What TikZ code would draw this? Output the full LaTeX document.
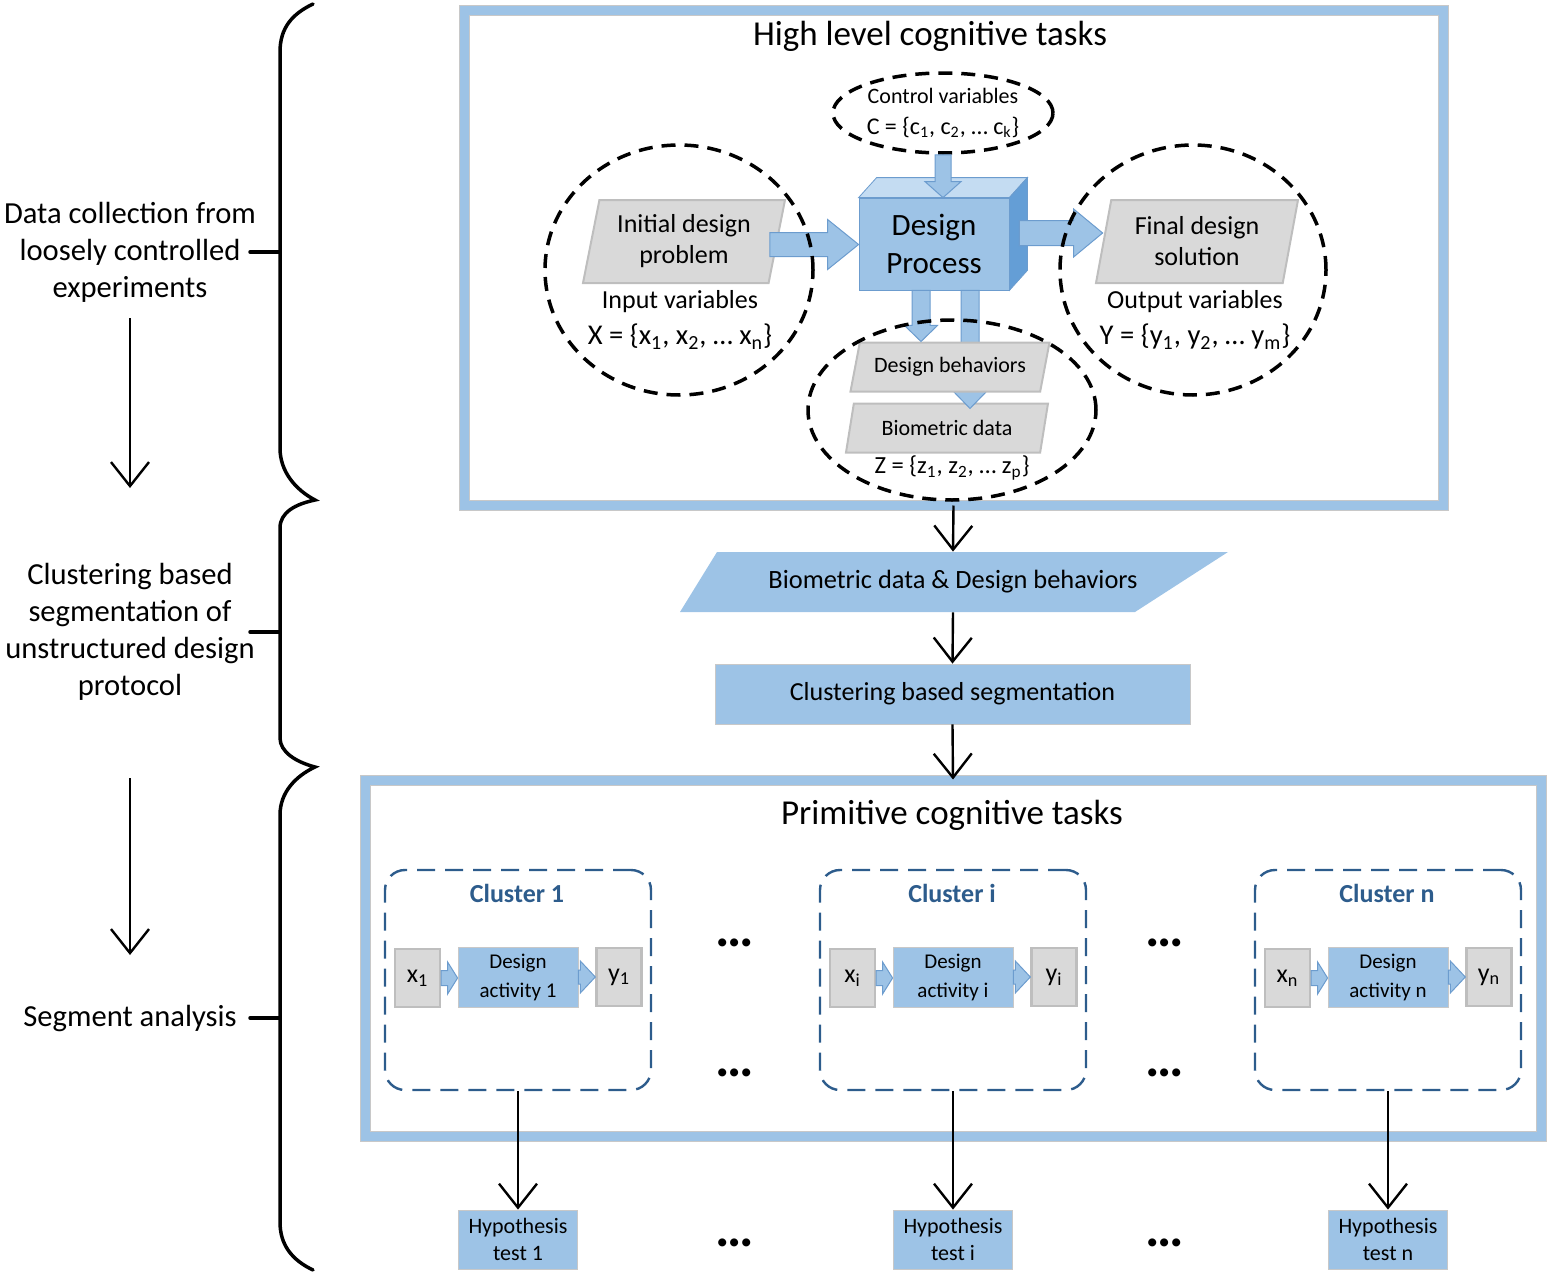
\documentclass[tikz,border=0pt]{standalone}
\usepackage{fontspec}
\setmainfont{Carlito}
\usetikzlibrary{positioning,calc,shapes.geometric,arrows.meta}

\definecolor{boxblue}{RGB}{157,195,230}
\definecolor{lineblue}{RGB}{108,156,206}
\definecolor{topblue}{RGB}{196,220,242}
\definecolor{sideblue}{RGB}{100,158,214}
\definecolor{grayfill}{RGB}{217,217,217}
\definecolor{grayline}{RGB}{190,190,190}
\definecolor{clusterblue}{RGB}{45,92,140}
\definecolor{framegray}{RGB}{200,200,200}

\newcommand{\fsz}[2]{\fontsize{#1}{#2}\selectfont}

% fat arrows: from, to, shaft half width, head half width, head length
\newcommand{\harrow}[5]{%
  \draw[blockarrow] let \p1=(#1), \p2=(#2) in
    (\x1,\y1+#3) -- (\x2-#5,\y1+#3) -- (\x2-#5,\y1+#4) -- (\x2,\y1)
    -- (\x2-#5,\y1-#4) -- (\x2-#5,\y1-#3) -- (\x1,\y1-#3) -- cycle;}
\newcommand{\varrow}[5]{%
  \draw[blockarrow] let \p1=(#1), \p2=(#2) in
    (\x1-#3,\y1) -- (\x1-#3,\y2+#5) -- (\x1-#4,\y2+#5) -- (\x1,\y2)
    -- (\x1+#4,\y2+#5) -- (\x1+#3,\y2+#5) -- (\x1+#3,\y1) -- cycle;}

\tikzset{
  bigframe/.style={draw=framegray, line width=0.5pt, double=boxblue, double distance=4.5pt, inner sep=0pt},
  boxtitle/.style={font=\fsz{17.5}{21}},
  dashell/.style={ellipse, draw=black, line width=1.75pt, dash pattern=on 7pt off 4.5pt, inner sep=0pt},
  graybox/.style={trapezium, trapezium stretches body, fill=grayfill, draw=grayline, line width=1pt, align=center, inner sep=1pt},
  bluebox/.style={rectangle, fill=boxblue, draw=framegray, line width=0.4pt, align=center, inner sep=0pt},
  blockarrow/.style={fill=boxblue, draw=lineblue, line width=0.5pt},
  flow/.style={line width=1.2pt, -{Straight Barb[length=12pt,width=19pt]}},
  bracestroke/.style={line width=1.75pt, line cap=round},
  sidelabel/.style={align=center, font=\fsz{15.3}{18.5}},
  clusterbox/.style={draw=clusterblue, line width=1.2pt, dash pattern=on 9pt off 5pt, rounded corners=10pt},
  smallbox/.style={fill=grayfill, draw=grayline, line width=1.2pt, inner sep=0pt, minimum width=22.5pt, minimum height=29pt},
  dotrow/.style={font=\fsz{27}{28}\bfseries, anchor=base, inner sep=0pt},
}

\begin{document}
\begin{tikzpicture}[x=0.5pt,y=-0.5pt]
\useasboundingbox (0,0) rectangle (1555,1285);

% left column
\node[sidelabel] (lab1) at (130,252) {Data collection from\\loosely controlled\\experiments};
\node[sidelabel] (lab2) at (130,632) {Clustering based\\segmentation of\\unstructured design\\protocol};
\node[sidelabel] (lab3) at (130,1018) {Segment analysis};
\coordinate (t1) at (280,252);
\coordinate (t2) at (280,632);
\coordinate (t3) at (280,1018);
\draw[bracestroke] (313,4) .. controls (292,14) and (280,28) .. (280,52) -- (280,448)
  .. controls (280,472) and (296,490) .. (315,500) .. controls (296,504) and (280,512) .. (280,528)
  -- (280,738) .. controls (280,752) and (296,762) .. (315,767) .. controls (296,776) and (280,792) .. (280,815)
  -- (280,1222) .. controls (280,1245) and (292,1260) .. (313,1270);
\draw[bracestroke] ($(t1)+(-30,0)$) -- (t1);
\draw[bracestroke] ($(t2)+(-30,0)$) -- (t2);
\draw[bracestroke] ($(t3)+(-30,0)$) -- (t3);
\coordinate (d1a) at (130,318);
\coordinate (d1b) at (130,488);
\coordinate (d2a) at (130,778);
\coordinate (d2b) at (130,955);
\draw[flow] (d1a) -- (d1b);
\draw[flow] (d2a) -- (d2b);

% high level part
\node[bigframe, minimum width=489.5pt, minimum height=247.5pt] (high) at (953.5,257.5) {};
\node[boxtitle] (hightitle) at (930,36) {High level cognitive tasks};
\node[dashell, minimum width=110pt, minimum height=40pt, align=center, font=\fsz{11}{15.5}] (ctrl) at (943,113)
  {Control variables\\\fsz{12}{15.5}C = \{c\textsubscript{1}, c\textsubscript{2}, … c\textsubscript{k}\}};

\node[bluebox, draw=lineblue, minimum width=75pt, minimum height=46pt, font=\fsz{15.5}{19}] (cube) at (934,244) {Design\\Process};
\draw[fill=topblue, draw=lineblue, line width=0.4pt] (cube.north west) -- ++(18,-20)
  -- ([shift={(18,-20)}]cube.north east) -- (cube.north east) -- cycle;
\draw[fill=sideblue, draw=lineblue, line width=0.4pt] (cube.north east) -- ++(18,-20)
  -- ([shift={(18,-20)}]cube.south east) -- (cube.south east) -- cycle;

\node[graybox, trapezium left angle=74, trapezium right angle=106, minimum width=101pt, minimum height=41.5pt,
  font=\fsz{13}{15.5}] (init) at (684,241.5) {Initial design\\problem};
\node[graybox, trapezium left angle=74, trapezium right angle=106, minimum width=101pt, minimum height=41.5pt,
  font=\fsz{13}{15.5}] (final) at (1197,241.5) {Final design\\solution};
\node[align=center, font=\fsz{13}{18}] (invars) at (680,320)
  {Input variables\\\fsz{14.3}{18}X = \{x\textsubscript{1}, x\textsubscript{2}, … x\textsubscript{n}\}};
\node[align=center, font=\fsz{13}{18}] (outvars) at (1195,320)
  {Output variables\\\fsz{14.3}{18}Y = \{y\textsubscript{1}, y\textsubscript{2}, … y\textsubscript{m}\}};

\varrow{ctrl.south}{cube.north}{4pt}{9pt}{8pt}
\harrow{$(init.east)+(-8,3)$}{cube.west}{6pt}{12.5pt}{15.5pt}
\harrow{$(cube.east)+(10,-11)$}{final.west}{6.25pt}{12pt}{14.5pt}

\node[graybox, trapezium left angle=68, trapezium right angle=112, minimum width=101pt, minimum height=24.5pt,
  font=\fsz{11}{12}] (bio) at (947,428) {Biometric data};
\varrow{$(cube.south)+(36,0)$}{$(bio.north)+(0,6)$}{4.5pt}{8.25pt}{8.5pt}
\node[graybox, trapezium left angle=68, trapezium right angle=112, minimum width=99.5pt, minimum height=24.5pt,
  font=\fsz{11}{12}] (behav) at (950,367) {Design behaviors};
\varrow{$(cube.south)+(-13,0)$}{behav.north}{4.5pt}{8.25pt}{8pt}
\node[font=\fsz{12.3}{13}] (zvars) at (952,468) {Z = \{z\textsubscript{1}, z\textsubscript{2}, … z\textsubscript{p}\}};

\node[dashell, minimum width=134pt, minimum height=125pt] (incirc) at (679,270) {};
\node[dashell, minimum width=133pt, minimum height=125pt] (outcirc) at (1193,270) {};
\node[dashell, minimum width=144pt, minimum height=90pt] (zell) at (952,410) {};

% middle
\fill[boxblue] (680,612) -- (717,552) -- (1228,552) -- (1135,612) -- cycle;
\node[minimum width=272.5pt, minimum height=30pt, inner sep=0pt, font=\fsz{13.2}{15}]
  (bdata) at (953,582) {Biometric data \& Design behaviors};
\node[bluebox, minimum width=237.5pt, minimum height=30pt, font=\fsz{13}{15}] (seg) at (952.5,694) {Clustering based segmentation};
\node[bigframe, minimum width=588pt, minimum height=178pt] (low) at (953,958) {};
\node[boxtitle] (lowtitle) at (952,815) {Primitive cognitive tasks};

\draw[flow] (high.south) -- (bdata.north);
\draw[flow] (bdata.south) -- (seg.north);
\draw[flow] (seg.south) -- (low.north);

% clusters
\foreach \cx/\k in {517/1, 952/i, 1387/n} {
  \node[clusterbox, minimum width=133pt, minimum height=110pt] (cl\k) at (\cx+1,980) {};
  \node[font=\fsz{13}{15}\bfseries, text=clusterblue] (cltitle\k) at (\cx,893) {Cluster \k};
  \node[smallbox, font=\fsz{13}{15}] (x\k) at (\cx-99.5,978) {x\textsubscript{\k}};
  \node[bluebox, minimum width=60pt, minimum height=30pt, font=\fsz{10.5}{14.5}] (act\k) at (\cx+1,977) {Design\\activity \k};
  \node[smallbox, font=\fsz{13}{15}] (y\k) at (\cx+102,977) {y\textsubscript{\k}};
  \harrow{x\k.east}{act\k.west}{3.75pt}{8pt}{5pt}
  \harrow{act\k.east}{y\k.west}{3.5pt}{8pt}{7.5pt}
  \node[bluebox, minimum width=59.5pt, minimum height=29.5pt, font=\fsz{11}{13.5}] (hyp\k) at (\cx+1,1239.5) {Hypothesis\\test \k};
  \draw[flow] (cl\k.south) -- (hyp\k.north);
}
\foreach \dx in {735,1165}
  \foreach \dy in {946,1076,1246}
    \node[dotrow] (dots-\dx-\dy) at (\dx,\dy) {…};

\end{tikzpicture}
\end{document}
